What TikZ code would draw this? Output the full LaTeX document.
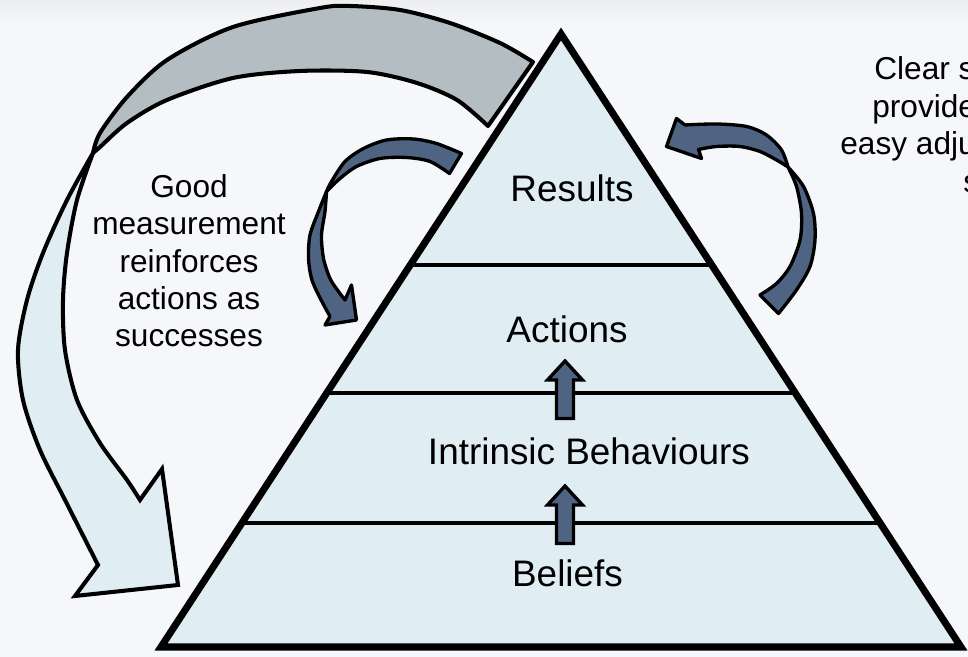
\documentclass[tikz,border=0pt]{standalone}
\usepackage{fontspec}
\setmainfont{Liberation Sans}
\usetikzlibrary{calc}

\definecolor{pagebg}{HTML}{F5F7FA}
\definecolor{pagetop}{HTML}{ECEEF1}
\definecolor{layerfill}{HTML}{E0EDF3}
\definecolor{bandgrey}{HTML}{B4BEC2}
\definecolor{slate}{HTML}{4F6482}

\begin{document}
\begin{tikzpicture}[x=1cm,y=1cm]
\tikzset{
  layeredge/.style={draw=black,line width=4pt,line join=miter},
  layerline/.style={draw=black,line width=2.3pt},
  label/.style={font=\fontsize{21}{25}\selectfont,anchor=base,inner sep=0pt},
  sidetext/.style={font=\fontsize{18}{21.3}\selectfont,inner sep=0pt},
  backband/.style={draw=black,line width=2.3pt,line join=round,fill=bandgrey},
  frontband/.style={draw=black,line width=2.3pt,line join=round,fill=layerfill},
  slatearrow/.style={draw=black,line width=1.9pt,line join=round,fill=slate},
  liftarrow/.pic={
    \filldraw[slatearrow,line join=miter] (0,0) -- (0.35,-0.38) -- (0.17,-0.38)
      -- (0.17,-1.15) -- (-0.17,-1.15) -- (-0.17,-0.38) -- (-0.35,-0.38) -- cycle;
  }
}
% page
\useasboundingbox (0,0) rectangle (19.36,13.14);
\fill[pagebg] (0,0) rectangle (19.36,13.14);
\shade[top color=pagetop,bottom color=pagebg] (0,12.60) rectangle (19.36,13.14);

% pyramid
\coordinate (apex) at (11.22,12.46);
\coordinate (bl) at (3.22,0.20);
\coordinate (br) at (19.22,0.20);
\fill[layerfill] (apex) -- (bl) -- (br) -- cycle;
\draw[layerline] ($(apex)!0.377!(bl)$) -- ($(apex)!0.377!(br)$);
\draw[layerline] ($(apex)!0.586!(bl)$) -- ($(apex)!0.586!(br)$);
\draw[layerline] ($(apex)!0.798!(bl)$) -- ($(apex)!0.798!(br)$);
\draw[layeredge] (apex) -- (bl) -- (br) -- cycle;

\node[label] (results) at (11.44,9.10) {Results};
\node[label] (actions) at (11.34,6.28) {Actions};
\node[label] (behaviours) at (11.78,3.84) {Intrinsic Behaviours};
\node[label] (beliefs) at (11.35,1.40) {Beliefs};

\pic at (11.30,5.92) {liftarrow};
\pic at (11.30,3.42) {liftarrow};

% big loop arrow, back part
\filldraw[backband]
  plot[smooth] coordinates {(10.66,11.90) (10.00,12.28) (9.00,12.68) (8.00,12.94)
    (7.00,13.02) (6.40,12.98) (4.66,12.60) (3.34,11.94) (2.54,11.20) (2.00,10.48) (1.86,10.08)}
  -- plot[smooth] coordinates {(1.86,10.08) (2.00,10.20) (2.54,10.68) (3.34,11.14)
    (4.66,11.58) (6.00,11.72) (7.34,11.70) (8.34,11.48) (9.14,11.14) (9.76,10.62)}
  -- cycle;
% big loop arrow, front part
\filldraw[frontband,line join=miter]
  plot[smooth] coordinates {(1.86,10.08) (1.34,9.14) (0.86,8.08) (0.54,7.14) (0.36,6.14)
    (0.46,5.14) (0.80,4.14) (1.30,3.14) (1.96,1.84)}
  -- (1.50,1.22) -- (3.56,1.44) -- (3.24,3.76) -- (2.80,3.14)
  -- plot[smooth] coordinates {(2.80,3.14) (2.54,3.54) (2.00,4.28) (1.54,5.14)
    (1.30,6.14) (1.26,7.14) (1.34,8.08) (1.54,9.14) (1.86,10.08)}
  -- cycle;

% small arrow, left of the pyramid
\filldraw[slatearrow]
  plot[smooth] coordinates {(9.23,10.07) (8.73,10.27) (8.27,10.36) (7.73,10.34)
    (7.27,10.17) (6.90,9.91) (6.63,9.51) (6.53,9.31)}
  -- plot[smooth] coordinates {(6.53,9.31) (6.80,9.57) (7.13,9.81) (7.60,9.97)
    (8.13,9.99) (8.60,9.91) (8.99,9.67)}
  -- cycle;
\filldraw[slatearrow]
  plot[smooth] coordinates {(6.53,9.31) (6.37,8.91) (6.20,8.44) (6.17,7.97) (6.23,7.57)
    (6.37,7.24) (6.60,6.81)}
  -- (6.50,6.64) -- (7.13,6.74) -- (7.03,7.44) -- (6.90,7.14)
  -- plot[smooth] coordinates {(6.90,7.14) (6.77,7.31) (6.60,7.57) (6.47,7.97)
    (6.43,8.44) (6.50,8.91) (6.53,9.31)}
  -- cycle;

% small arrow, right of the pyramid
\filldraw[slatearrow]
  plot[smooth] coordinates {(15.57,6.87) (15.93,7.34) (16.20,7.81) (16.30,8.34)
    (16.27,8.87) (16.07,9.41) (15.76,9.80)}
  -- plot[smooth] coordinates {(15.76,9.80) (15.93,9.41) (16.03,8.87) (16.00,8.34)
    (15.80,7.81) (15.53,7.47) (15.20,7.24)}
  -- cycle;
\filldraw[slatearrow]
  plot[smooth] coordinates {(15.76,9.80) (15.63,10.14) (15.33,10.44) (14.93,10.61)
    (14.33,10.66) (13.70,10.64)}
  -- (13.53,10.77) -- (13.33,10.21) -- (14.03,9.97) -- (13.97,10.15)
  -- plot[smooth] coordinates {(13.97,10.15) (14.33,10.21) (14.80,10.21) (15.20,10.11)
    (15.53,9.94) (15.76,9.80)}
  -- cycle;

% side texts (the right one runs off the page edge)
\node[sidetext,align=center,anchor=base] (measure) at (3.78,6.20)
  {Good\\measurement\\reinforces\\actions as\\successes};
\node[sidetext,anchor=base west] (clear1) at (17.48,11.54) {Clear s};
\node[sidetext,anchor=base west] (clear2) at (17.44,10.79) {provide};
\node[sidetext,anchor=base west] (clear3) at (16.80,10.04) {easy adju};
\node[sidetext,anchor=base west] (clear4) at (19.26,9.29) {s};
\end{tikzpicture}
\end{document}
